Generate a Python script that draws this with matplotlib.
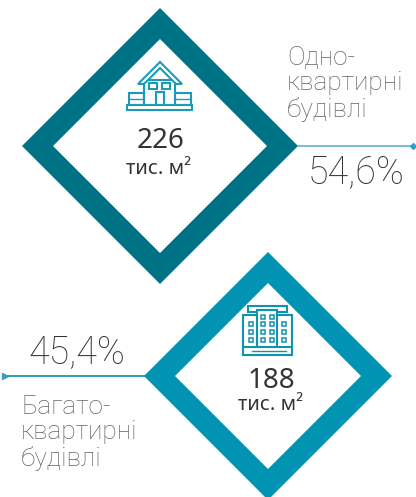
import matplotlib
matplotlib.use('Agg')
import matplotlib.pyplot as plt
from matplotlib.patches import Polygon, Rectangle

plt.rcParams['font.family'] = ['Roboto', 'Open Sans', 'DejaVu Sans']

values = ['226', '188']
units = ['тис. м²', 'тис. м²']
shares = ['54,6%', '45,4%']
labels = ['Одно-\nквартирні\nбудівлі', 'Багато-\nквартирні\nбудівлі']

TEAL = '#007286'
BLUE = '#0093b2'
DARK = '#333333'
GREY = '#5f6668'
SANS = ['Noto Sans', 'DejaVu Sans']

fig = plt.figure(figsize=(4.16, 4.97), dpi=100)
ax = fig.add_axes([0, 0, 1, 1])
ax.set_xlim(0, 416)
ax.set_ylim(497, 0)
ax.axis('off')


def diamond(cx, cy, outer, inner, color):
    ax.add_patch(Polygon([(cx - outer, cy), (cx, cy - outer), (cx + outer, cy), (cx, cy + outer)],
                         fc=color, ec='none'))
    ax.add_patch(Polygon([(cx - inner, cy), (cx, cy - inner), (cx + inner, cy), (cx, cy + inner)],
                         fc='white', ec='none'))


def box(x0, y0, x1, y1, color, lw=1.5):
    ax.add_patch(Rectangle((x0, y0), x1 - x0, y1 - y0, fc='white', ec=color, lw=lw))


diamond(160, 146, 138, 107, TEAL)
diamond(268, 376, 124, 93, BLUE)

# leader lines
ax.plot([298, 414], [146, 146], color='#5fb3d0', lw=1.2)
ax.plot([413], [146], marker='D', ms=3, color='#3a9cc0')
ax.plot([4, 145], [376, 376], color=BLUE, lw=1.2)
ax.plot([5], [376], marker='>', ms=4, color='#3a9cc0')

# house icon
c = '#1a9cb8'
box(129, 93, 144, 105, c)
box(175, 93, 191, 105, c)
ax.plot([129, 144], [99, 99], color=c, lw=1)
ax.plot([175, 191], [99, 99], color=c, lw=1)
box(144, 80, 175, 105, c)
ax.add_patch(Polygon([(138, 84), (160, 62), (182, 84), (176, 84), (160, 68), (144, 84)],
                     fc='white', ec=c, lw=1.5))
box(149, 83, 157, 89, c)
box(162, 83, 170, 89, c)
box(156, 92, 164, 105, c)
box(127, 105, 192, 110, c)

# block icon
c = '#0f93ae'
box(248, 306, 287, 312, c)
box(243, 315, 292, 355, c)
box(257, 310, 277, 348, c)
box(243, 347, 292, 355, c)
for x in [251, 263, 272, 284]:
    for y in [324, 332, 340]:
        box(x - 2.2, y - 2.2, x + 2.2, y + 2.2, c, lw=1.1)
for x in [263, 272]:
    box(x - 2.2, 314.5, x + 2.2, 319, c, lw=1.1)
ax.plot([252, 286], [351, 351], color=c, lw=1)

# texts
ax.text(160, 141, values[0], ha='center', va='center', fontsize=20, color=DARK, family=SANS)
ax.text(159, 169, units[0], ha='center', va='center', fontsize=14.5, color=DARK, family=SANS)
ax.text(271, 381, values[1], ha='center', va='center', fontsize=20, color=DARK, family=SANS)
ax.text(271, 405, units[1], ha='center', va='center', fontsize=14.5, color=DARK, family=SANS)

ax.text(356, 172, shares[0], ha='center', va='center', fontsize=27, color=DARK, fontweight='light')
ax.text(77, 352, shares[1], ha='center', va='center', fontsize=27, color=DARK, fontweight='light')

ax.text(287, 84, labels[0], ha='left', va='center', fontsize=18.9, color=GREY, linespacing=1.1, fontweight='light')
ax.text(21, 433, labels[1], ha='left', va='center', fontsize=18.9, color=GREY, linespacing=1.1, fontweight='light')

fig.savefig('out.png', dpi=100)
